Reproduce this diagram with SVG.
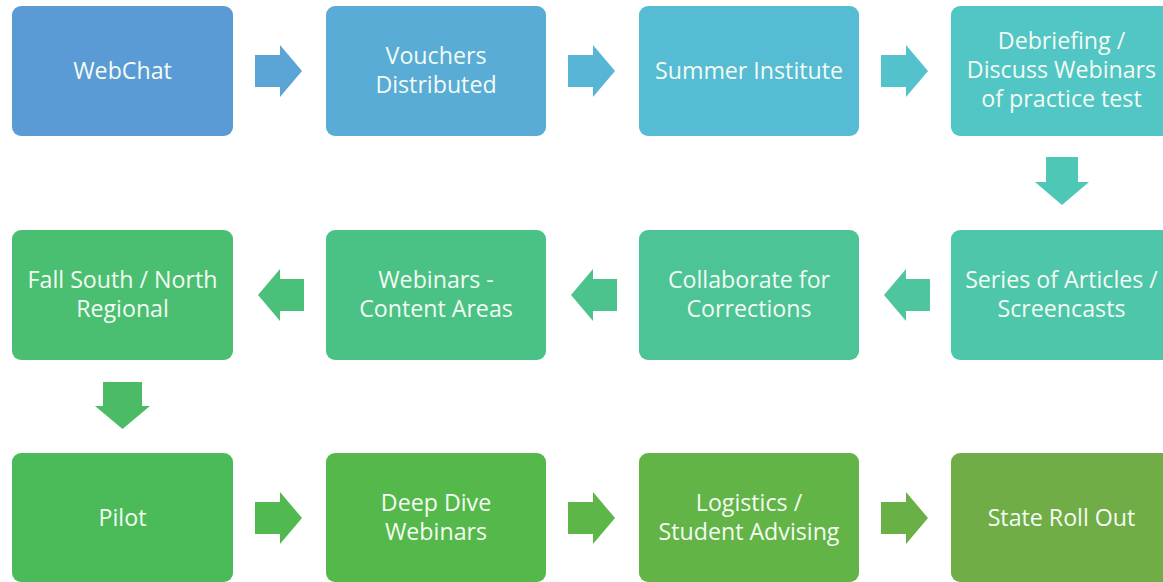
<svg xmlns="http://www.w3.org/2000/svg" width="1163" height="582" viewBox="0 0 1163 582">
<style>
.box{stroke:none}
.lbl{font-family:"Open Sans","Liberation Sans",sans-serif;font-size:23.2px;fill:#f3fbf3;text-anchor:middle}
</style>
<rect width="1163" height="582" fill="#ffffff"/>
<g id="connectors">
<path d="M255,55 H280 V45 L302,71 L280,97 V87 H255 Z" fill="#5AA4D6"/>
<path d="M568,55 H593 V45 L615,71 L593,97 V87 H568 Z" fill="#57B5D5"/>
<path d="M881,55 H906 V45 L928,71 L906,97 V87 H881 Z" fill="#53C2CC"/>
<path d="M1046,157 V182 H1035 L1062,205 L1089,182 H1078 V157 Z" fill="#4FC7B6"/>
<path d="M930,279 H906 V269 L884,295 L906,321 V311 H930 Z" fill="#4DC59F"/>
<path d="M617,279 H593 V269 L571,295 L593,321 V311 H617 Z" fill="#4CC38D"/>
<path d="M304,279 H280 V269 L258,295 L280,321 V311 H304 Z" fill="#4AC07B"/>
<path d="M103,382 V406 H95 L122.5,429 L150,406 H142 V382 Z" fill="#4BBC65"/>
<path d="M255,502 H280 V492 L302,518 L280,544 V534 H255 Z" fill="#50BA51"/>
<path d="M568,502 H593 V492 L615,518 L593,544 V534 H568 Z" fill="#5CB648"/>
<path d="M881,502 H906 V492 L928,518 L906,544 V534 H881 Z" fill="#69B146"/>
</g>
<g id="n1"><rect class="box" x="12" y="6" width="221" height="130" rx="9" fill="#5B9BD5"/><text class="lbl" x="122.5" y="79">WebChat</text></g>
<g id="n2"><rect class="box" x="326" y="6" width="220" height="130" rx="9" fill="#59ACD6"/><text class="lbl" x="436" y="63.5">Vouchers</text><text class="lbl" x="436" y="92.5">Distributed</text></g>
<g id="n3"><rect class="box" x="639" y="6" width="220" height="130" rx="9" fill="#55BCD3"/><text class="lbl" x="749" y="79">Summer Institute</text></g>
<g id="n4"><rect class="box" x="951" y="6" width="221" height="130" rx="9" fill="#51C6C4"/><text class="lbl" x="1061.5" y="49">Debriefing /</text><text class="lbl" x="1061.5" y="78">Discuss Webinars</text><text class="lbl" x="1061.5" y="107">of practice test</text></g>
<g id="n5"><rect class="box" x="951" y="230" width="221" height="130" rx="9" fill="#4EC6AA"/><text class="lbl" x="1061.5" y="287.5">Series of Articles /</text><text class="lbl" x="1061.5" y="316.5">Screencasts</text></g>
<g id="n6"><rect class="box" x="639" y="230" width="220" height="130" rx="9" fill="#4CC496"/><text class="lbl" x="749" y="287.5">Collaborate for</text><text class="lbl" x="749" y="316.5">Corrections</text></g>
<g id="n7"><rect class="box" x="326" y="230" width="220" height="130" rx="9" fill="#4BC285"/><text class="lbl" x="436" y="287.5">Webinars -</text><text class="lbl" x="436" y="316.5">Content Areas</text></g>
<g id="n8"><rect class="box" x="12" y="230" width="221" height="130" rx="9" fill="#4ABF71"/><text class="lbl" x="122.5" y="287.5">Fall South / North</text><text class="lbl" x="122.5" y="316.5">Regional</text></g>
<g id="n9"><rect class="box" x="12" y="453" width="221" height="129" rx="9" fill="#4BBB5A"/><text class="lbl" x="122.5" y="526">Pilot</text></g>
<g id="n10"><rect class="box" x="326" y="453" width="220" height="129" rx="9" fill="#55B84A"/><text class="lbl" x="436" y="511">Deep Dive</text><text class="lbl" x="436" y="540">Webinars</text></g>
<g id="n11"><rect class="box" x="639" y="453" width="220" height="129" rx="9" fill="#62B446"/><text class="lbl" x="749" y="511">Logistics /</text><text class="lbl" x="749" y="540">Student Advising</text></g>
<g id="n12"><rect class="box" x="951" y="453" width="221" height="129" rx="9" fill="#70AD47"/><text class="lbl" x="1061.5" y="526">State Roll Out</text></g>
</svg>
